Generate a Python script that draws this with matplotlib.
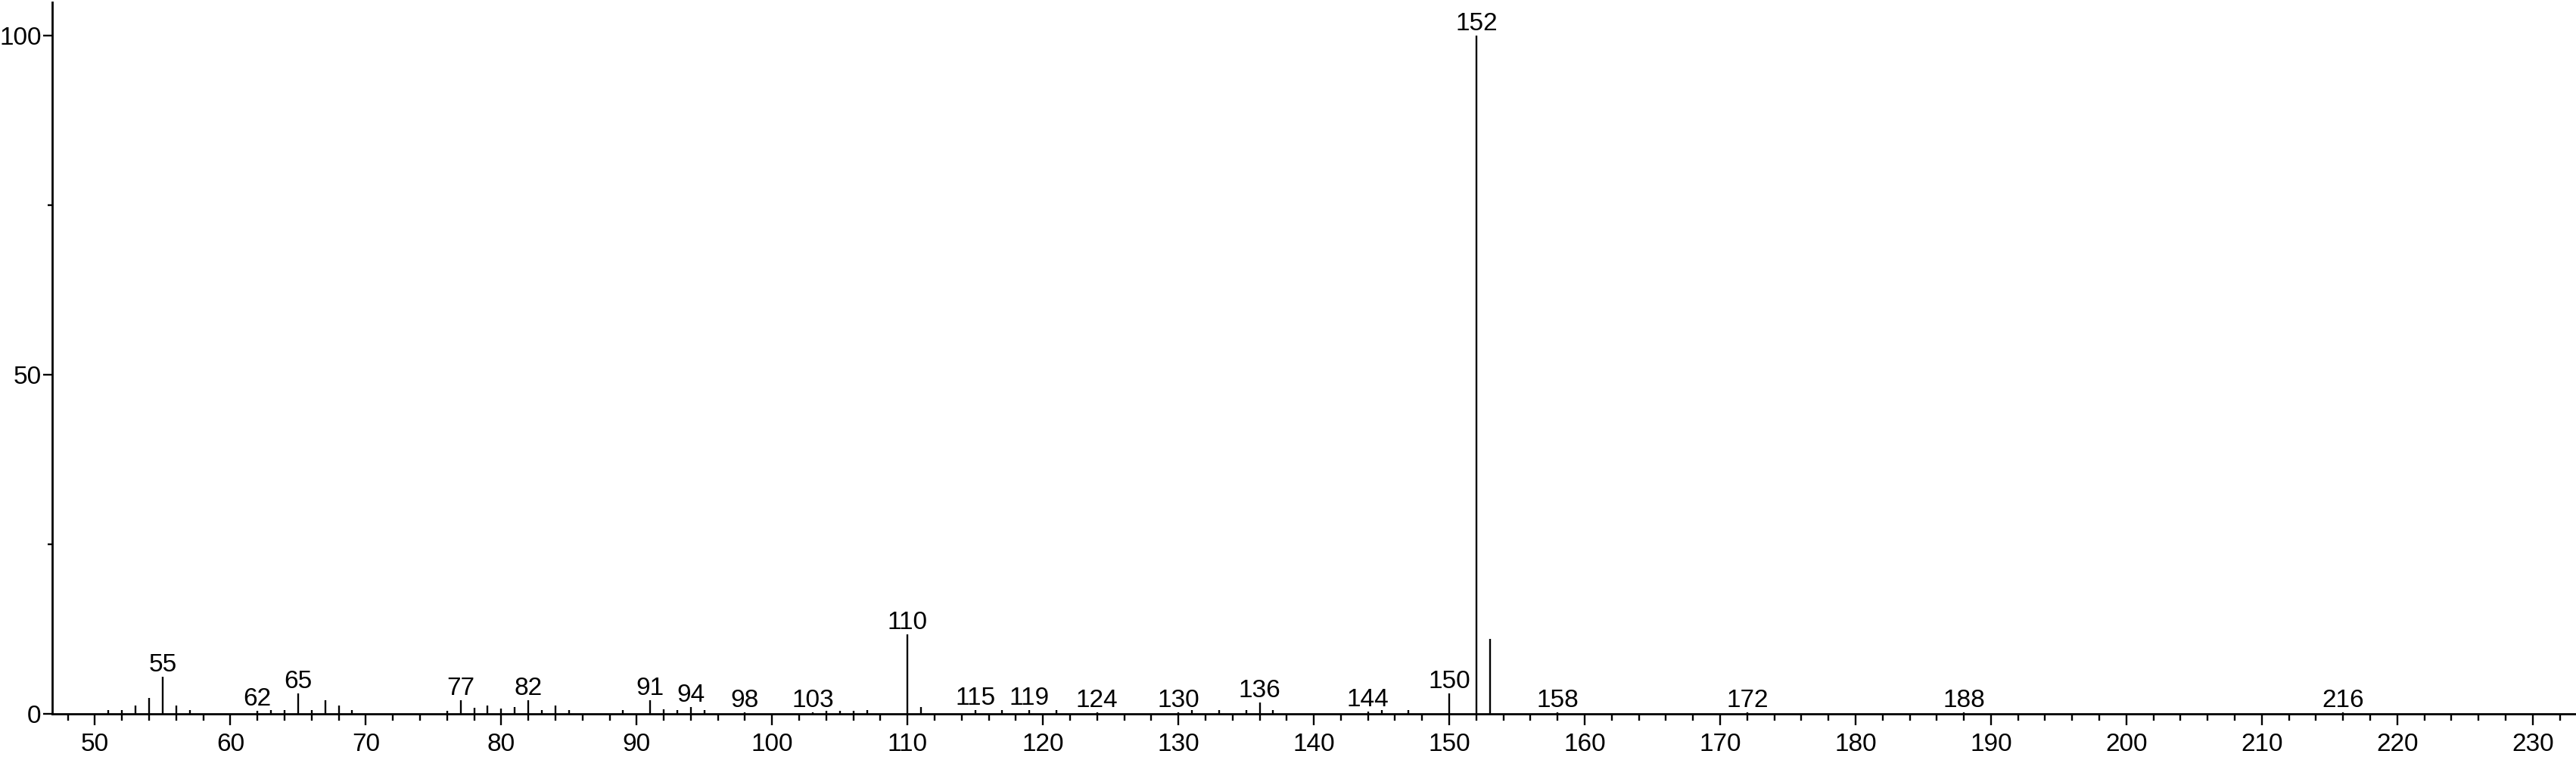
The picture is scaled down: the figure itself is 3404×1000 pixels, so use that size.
import matplotlib
matplotlib.use("Agg")
import matplotlib.pyplot as plt
from matplotlib.ticker import MultipleLocator

mz = [51, 52, 53, 54, 55, 56, 57, 62, 63, 64, 65, 66, 67, 68, 69,
      76, 77, 78, 79, 80, 81, 82, 83, 84, 85, 89, 91, 92, 93, 94, 95,
      98, 103, 104, 105, 106, 107, 110, 111, 115, 117, 119, 121, 124,
      130, 131, 133, 135, 136, 137, 144, 145, 147, 150, 152, 153,
      158, 172, 188, 216]
intensidad = [0.6, 0.6, 1.3, 2.4, 5.5, 1.3, 0.6, 0.5, 0.6, 0.6, 3.1, 0.6, 2.0, 1.3, 0.6,
              0.5, 2.0, 0.9, 1.3, 0.8, 1.0, 2.0, 0.6, 1.3, 0.6, 0.6, 2.0, 0.7, 0.6, 1.0, 0.6,
              0.3, 0.3, 0.5, 0.5, 0.5, 0.6, 11.8, 1.0, 0.6, 0.6, 0.6, 0.6, 0.3,
              0.3, 0.6, 0.6, 0.6, 1.7, 0.6, 0.4, 0.6, 0.6, 3.1, 100.0, 11.1,
              0.3, 0.3, 0.3, 0.3]

# picos con etiqueta
etiquetas = [55, 62, 65, 77, 82, 91, 94, 98, 103, 110, 115, 119, 124,
             130, 136, 144, 150, 152, 158, 172, 188, 216]

plt.rcParams['font.family'] = ['Liberation Sans', 'DejaVu Sans']

fig = plt.figure(figsize=(34.04, 10), dpi=100)
ax = fig.add_axes([0.0203, 0.0567, 0.9797, 0.9400])

ax.vlines(mz, 0, intensidad, color='black', linewidth=1.7)

inten = dict(zip(mz, intensidad))
for m in etiquetas:
    ax.annotate(str(m), (m, inten[m]), xytext=(0, 0), textcoords='offset points',
                ha='center', va='bottom', fontsize=24)

ax.set_xlim(46.85, 233.2)
ax.set_ylim(0, 104.9)

ax.xaxis.set_major_locator(MultipleLocator(10))
ax.xaxis.set_minor_locator(MultipleLocator(2))
ax.set_yticks([0, 50, 100])
ax.yaxis.set_minor_locator(MultipleLocator(25))

ax.spines['top'].set_visible(False)
ax.spines['right'].set_visible(False)
ax.spines['left'].set_linewidth(2.0)
ax.spines['bottom'].set_linewidth(2.0)

ax.tick_params(axis='x', which='major', direction='out', length=11, width=1.7,
               labelsize=24, pad=7)
ax.tick_params(axis='x', which='minor', direction='out', length=6.7, width=1.7)
ax.tick_params(axis='y', which='major', direction='out', length=8.5, width=1.7,
               labelsize=24, pad=2)
ax.tick_params(axis='y', which='minor', direction='out', length=4, width=1.7)

fig.savefig('out.png', dpi=100)
